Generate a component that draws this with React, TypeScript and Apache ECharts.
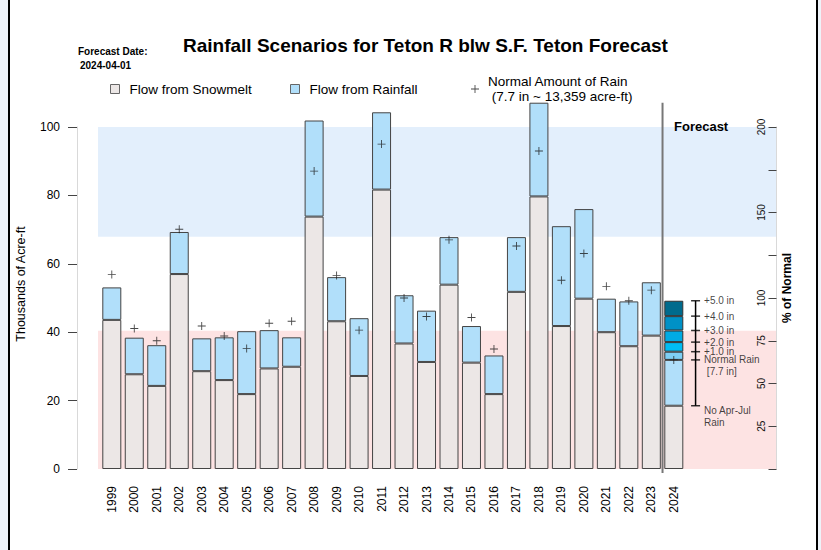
import React, { useEffect, useRef } from "react";
import * as echarts from "echarts";

const FONT = '"Liberation Sans", Arial, Helvetica, sans-serif';

const years = ["1999","2000","2001","2002","2003","2004","2005","2006","2007","2008","2009","2010","2011","2012","2013","2014","2015","2016","2017","2018","2019","2020","2021","2022","2023","2024"];
// thousands of acre-ft
const snowmelt = [43.6, 27.7, 24.3, 57.0, 28.6, 26.0, 21.9, 29.4, 29.9, 73.8, 43.2, 27.2, 81.7, 36.7, 31.3, 53.9, 31.1, 21.9, 51.8, 79.7, 41.8, 49.8, 40.0, 35.9, 39.0, 18.5];
const totalFlow = [53.1, 38.4, 36.2, 69.3, 38.2, 38.5, 40.3, 40.6, 38.5, 101.9, 56.1, 44.1, 104.3, 50.8, 46.3, 67.8, 41.8, 33.2, 67.8, 107.1, 71.0, 76.0, 49.8, 49.0, 54.6, 31.9];
const normalRain = [56.9, 41.1, 37.5, 70.1, 41.8, 38.9, 35.2, 42.6, 43.2, 87.1, 56.6, 40.6, 95.0, 50.0, 44.6, 67.0, 44.3, 35.1, 65.2, 93.0, 55.2, 63.0, 53.4, 49.2, 52.3, 31.9];

// 2024 forecast scenarios
const scenarioLabels = ["+1.0 in", "+2.0 in", "+3.0 in", "+4.0 in", "+5.0 in"];
const scenarioTops = [34.3, 37.1, 40.5, 44.7, 49.2];
const scenarioColors = ["#7ecff5", "#00bdf4", "#00abe4", "#0091c6", "#006b8d"];
const noRainLevel = 18.5;
const normalLevel = 31.9;

const highBand = [67.9, 100];
const lowBand = [0, 40.4];

// right axis (% of normal) tick labels
const pctLabels = [25, 50, 75, 100, 150, 200];

const forecastIndex = years.length - 1;
const forecastDivider = forecastIndex - 0.5;
const rulerX = forecastIndex + 0.97;
const pctLabelX = 28.91;

const PLUS = "path://M4.45,0H5.55V4.45H10V5.55H5.55V10H4.45V5.55H0V4.45H4.45Z";

export default function App() {
  const ref = useRef<HTMLDivElement>(null);
  useEffect(() => {
    document.body.style.margin = "0";
    const chart = echarts.init(ref.current!, null, { renderer: "svg" });
    const rain = totalFlow.map((t, i) => +(t - snowmelt[i]).toFixed(2));
    const scenarioSeries = scenarioTops.map((top, k) => ({
      name: "Scenario " + scenarioLabels[k],
      type: "bar",
      stack: "flow",
      xAxisIndex: 0,
      yAxisIndex: 0,
      barWidth: 19,
      clip: false,
      z: 2,
      data: years.map((_, i) =>
        i === forecastIndex ? +(top - (k === 0 ? normalLevel : scenarioTops[k - 1])).toFixed(2) : "-"
      ),
      itemStyle: { color: scenarioColors[k], borderColor: "#333", borderWidth: 1 },
    }));
    const rulerValues = [noRainLevel, normalLevel, ...scenarioTops];
    const rulerTexts = ["No Apr-Jul\nRain", "Normal Rain\n [7.7 in]", ...scenarioLabels];
    const barGridLeft = 100.56;
    const barGridWidth = 22.48 * years.length;
    const option: any = {
      animation: false,
      textStyle: { fontFamily: FONT },
      title: {
        text: "Rainfall Scenarios for Teton R blw S.F. Teton Forecast",
        left: 183,
        top: 36,
        padding: 0,
        textStyle: { fontSize: 19, fontWeight: "bold", color: "#000", fontFamily: FONT },
      },
      legend: [
        {
          data: ["Flow from Snowmelt"],
          left: 110,
          top: 82,
          padding: 0,
          selectedMode: false,
          itemWidth: 9,
          itemHeight: 9,
          icon: "rect",
          itemStyle: { borderColor: "#666", borderWidth: 1 },
          textStyle: { fontSize: 13.5, color: "#000", fontFamily: FONT, padding: [0, 0, 0, 5] },
        },
        {
          data: ["Flow from Rainfall"],
          left: 290,
          top: 82,
          padding: 0,
          selectedMode: false,
          itemWidth: 9,
          itemHeight: 9,
          icon: "rect",
          itemStyle: { borderColor: "#666", borderWidth: 1 },
          textStyle: { fontSize: 13.5, color: "#000", fontFamily: FONT, padding: [0, 0, 0, 5] },
        },
        {
          data: ["Normal Amount of Rain"],
          left: 471,
          top: 74,
          padding: 0,
          selectedMode: false,
          itemWidth: 8,
          itemHeight: 8,
          icon: PLUS,
          formatter: () => "Normal Amount of Rain\n (7.7 in ~ 13,359 acre-ft)",
          textStyle: { fontSize: 13.5, lineHeight: 15, color: "#000", fontFamily: FONT, padding: [0, 0, 0, 4] },
        },
      ],
      grid: [
        { left: barGridLeft, width: barGridWidth, top: 127, bottom: 81 },
        { left: 98, right: 44.5, top: 127, bottom: 81 },
      ],
      xAxis: [
        {
          type: "category",
          gridIndex: 0,
          data: years,
          axisLine: { show: false },
          axisTick: { show: false },
          splitLine: { show: false },
          axisLabel: {
            interval: 0,
            rotate: 90,
            margin: 17,
            fontSize: 12,
            color: "#000",
            fontFamily: FONT,
          },
        },
        {
          type: "value",
          gridIndex: 1,
          min: -0.614,
          max: 29.57,
          show: false,
        },
      ],
      yAxis: [
        {
          type: "value",
          gridIndex: 0,
          position: "left",
          min: 0,
          max: 100,
          interval: 20,
          offset: barGridLeft - 77,
          z: 10,
          axisLine: { show: true, lineStyle: { color: "#d9d9d9", width: 1 } },
          axisTick: { show: true, length: 9, lineStyle: { color: "#444" } },
          axisLabel: { margin: 17, fontSize: 12, color: "#000", fontFamily: FONT },
          splitLine: { show: false },
        },
        {
          type: "value",
          gridIndex: 1,
          min: 0,
          max: 100,
          show: false,
        },
        {
          type: "value",
          gridIndex: 1,
          position: "right",
          min: 0,
          max: 200,
          interval: 25,
          z: 10,
          axisLine: { show: true, lineStyle: { color: "#d9d9d9", width: 1 } },
          axisTick: { show: true, inside: true, length: 8, lineStyle: { color: "#444" } },
          axisLabel: { show: false },
          splitLine: { show: false },
        },
      ],
      series: [
        {
          name: "bands",
          type: "line",
          xAxisIndex: 1,
          yAxisIndex: 1,
          data: [],
          z: 0,
          silent: true,
          markArea: {
            silent: true,
            data: [
              [{ yAxis: lowBand[0], itemStyle: { color: "#fde3e3" } }, { yAxis: lowBand[1] }],
              [{ yAxis: highBand[0], itemStyle: { color: "#e3effc" } }, { yAxis: highBand[1] }],
            ],
          },
        },
        {
          name: "Flow from Snowmelt",
          type: "bar",
          stack: "flow",
          xAxisIndex: 0,
          yAxisIndex: 0,
          barWidth: 19,
          clip: false,
          z: 2,
          data: snowmelt,
          itemStyle: { color: "#ece7e6", borderColor: "#444", borderWidth: 1 },
        },
        {
          name: "Flow from Rainfall",
          type: "bar",
          stack: "flow",
          xAxisIndex: 0,
          yAxisIndex: 0,
          barWidth: 19,
          clip: false,
          z: 2,
          data: rain,
          itemStyle: { color: "#b1dffa", borderColor: "#444", borderWidth: 1 },
        },
        ...scenarioSeries,
        {
          name: "Normal Amount of Rain",
          type: "scatter",
          xAxisIndex: 0,
          yAxisIndex: 0,
          symbol: PLUS,
          symbolSize: 8,
          z: 5,
          data: normalRain,
          itemStyle: { color: "#1a1a1a" },
        },
        {
          name: "forecast divider",
          type: "line",
          xAxisIndex: 1,
          yAxisIndex: 1,
          symbol: "none",
          clip: false,
          z: 4,
          data: [[forecastDivider, 107.1], [forecastDivider, -1.2]],
          lineStyle: { color: "#777", width: 2 },
        },
        {
          name: "ruler",
          type: "line",
          xAxisIndex: 1,
          yAxisIndex: 1,
          symbol: "none",
          clip: false,
          z: 4,
          data: [[rulerX, noRainLevel], [rulerX, scenarioTops[scenarioTops.length - 1]]],
          lineStyle: { color: "#000", width: 1.5 },
        },
        {
          name: "ruler ticks",
          type: "scatter",
          xAxisIndex: 1,
          yAxisIndex: 1,
          symbol: "rect",
          symbolSize: [9, 1.5],
          clip: false,
          z: 4,
          itemStyle: { color: "#000" },
          data: rulerValues.map((v, k) => ({
            value: [rulerX, v],
            label: {
              show: true,
              position: "right",
              distance: 4,
              formatter: rulerTexts[k],
              fontSize: 10,
              lineHeight: 12,
              color: "#111",
              fontFamily: FONT,
              offset: k === 0 ? [0, 11] : k === 1 ? [0, 6] : [0, 0],
            },
          })),
        },
      ],
      graphic: [
        { id: "fd1", type: "text", left: 78, top: 46, z: 100, style: { text: "Forecast Date:", font: `bold 10px ${FONT}`, fill: "#000" } },
        { id: "fd2", type: "text", left: 80, top: 60, z: 100, style: { text: "2024-04-01", font: `bold 10px ${FONT}`, fill: "#000" } },
        { id: "fc", type: "text", left: 674, top: 120, z: 100, style: { text: "Forecast", font: `bold 13px ${FONT}`, fill: "#000" } },
        {
          id: "yname",
          type: "text",
          x: 21,
          y: 284,
          z: 100,
          rotation: Math.PI / 2,
          style: { text: "Thousands of Acre-ft", font: `12.5px ${FONT}`, fill: "#000", align: "center", verticalAlign: "middle" },
        },
        {
          id: "pname",
          type: "text",
          x: 787,
          y: 288,
          z: 100,
          rotation: Math.PI / 2,
          style: { text: "% of Normal", font: `bold 12px ${FONT}`, fill: "#000", align: "center", verticalAlign: "middle" },
        },
      ],
    };
    chart.setOption(option);
    // % of normal tick labels, positioned through the right axis scale
    const px = chart.convertToPixel({ xAxisIndex: 1 } as any, pctLabelX) as number;
    const pctGraphics = pctLabels.map((v) => ({
      id: "pct" + v,
      type: "text",
      x: px,
      y: chart.convertToPixel({ yAxisIndex: 2 } as any, v) as number,
      z: 100,
      rotation: Math.PI / 2,
      style: { text: String(v), font: `10px ${FONT}`, fill: "#111", align: "center", verticalAlign: "middle" },
    }));
    chart.setOption({ graphic: pctGraphics });
    return () => chart.dispose();
  }, []);
  return (
    <div style={{ position: "relative", width: 821, height: 550, background: "#eef3f9", overflow: "hidden" }}>
      <div
        style={{
          position: "absolute",
          left: 8,
          top: 0,
          width: 806,
          height: 550,
          background: "#fff",
          borderLeft: "2px solid #000",
          borderRight: "2px solid #000",
        }}
      />
      <div ref={ref} style={{ position: "absolute", left: 0, top: 0, width: 821, height: 550 }} />
    </div>
  );
}
